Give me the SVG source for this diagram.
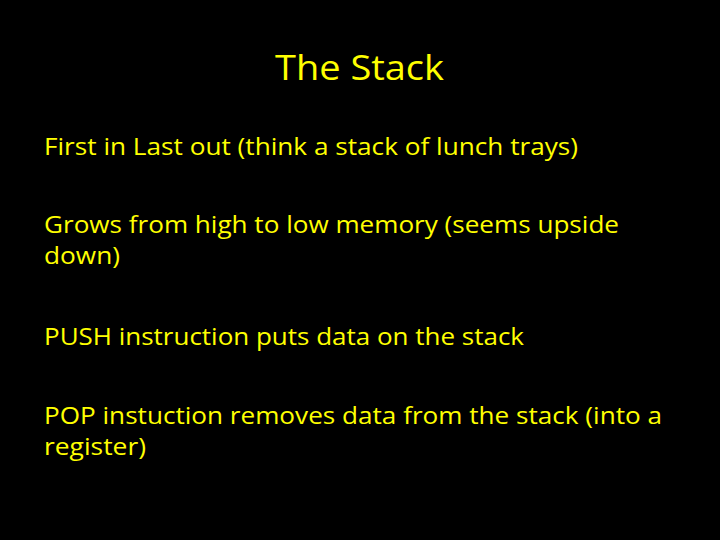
<svg xmlns="http://www.w3.org/2000/svg" width="720" height="540" viewBox="0 0 720 540">
<style>
text{fill:#ffff00;font-family:"Open Sans","Liberation Sans",sans-serif}
.b{font-size:23px}
.t{font-size:35px}
</style>
<rect width="720" height="540" fill="#000"/>
<g id="title"><text class="t" x="275" y="80" textLength="169" lengthAdjust="spacingAndGlyphs">The Stack</text></g>
<g id="bullets">
<text class="b" x="44" y="155" textLength="534" lengthAdjust="spacingAndGlyphs">First in Last out (think a stack of lunch trays)</text>
<text class="b" x="44" y="233" textLength="575" lengthAdjust="spacingAndGlyphs">Grows from high to low memory (seems upside</text>
<text class="b" x="44" y="264" textLength="76" lengthAdjust="spacingAndGlyphs">down)</text>
<text class="b" x="44" y="345" textLength="480" lengthAdjust="spacingAndGlyphs">PUSH instruction puts data on the stack</text>
<text class="b" x="44" y="424" textLength="618" lengthAdjust="spacingAndGlyphs">POP instuction removes data from the stack (into a</text>
<text class="b" x="44" y="455" textLength="102" lengthAdjust="spacingAndGlyphs">register)</text>
</g>
</svg>
